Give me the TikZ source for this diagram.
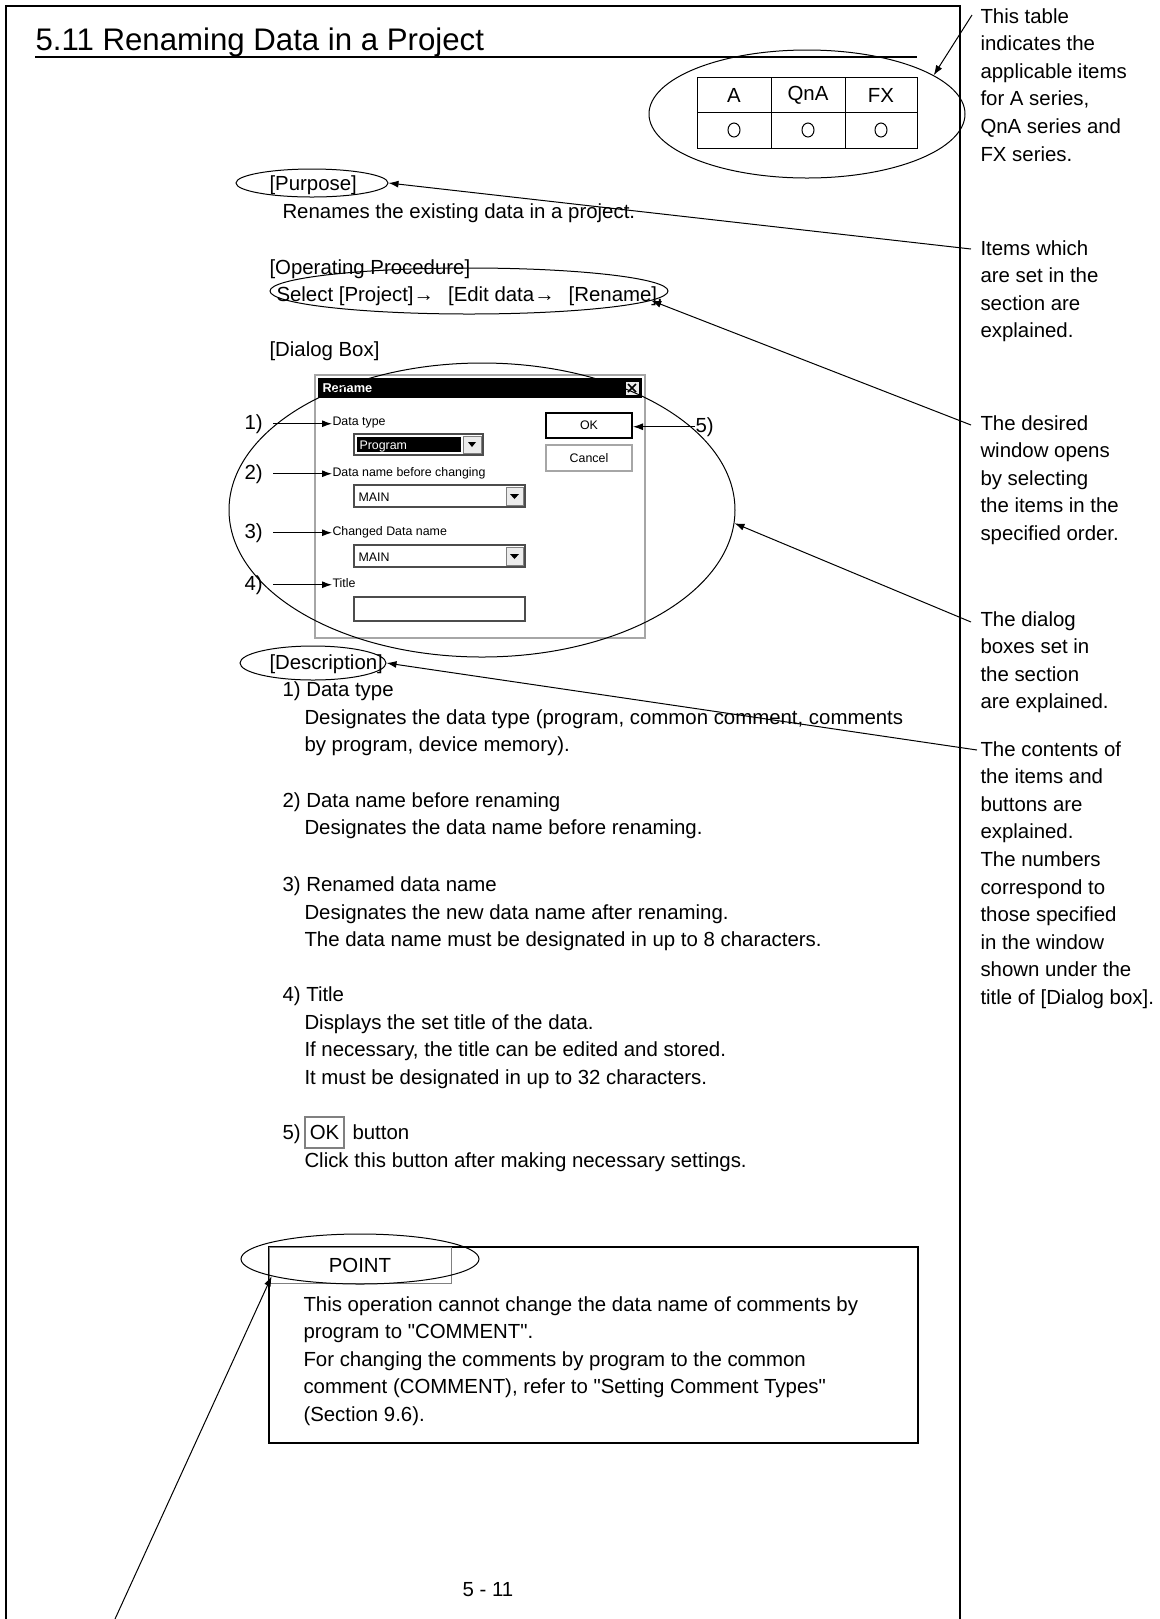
\documentclass[tikz,border=0pt]{standalone}
\usepackage{fontspec}
\setmainfont{Liberation Sans}[Ligatures=TeXOff]
\usetikzlibrary{arrows.meta,shapes.geometric}
\newcommand{\notelines}[1]{\begin{tabular}[t]{@{}l@{}}#1\end{tabular}}

\begin{document}
\begin{tikzpicture}[x=0.5pt, y=-0.5pt, line width=0.5pt,
    txt/.style={anchor=base west, inner sep=0pt,
        font=\fontsize{10.2}{13.8}\selectfont},
    dlg/.style={anchor=base west, inner sep=0pt, font=\fontsize{6.2}{7.4}\selectfont},
    oval/.style={ellipse, draw, inner sep=0pt},
    lead/.style={-{Latex[length=5pt, width=3.5pt]}},
    combo/.style={draw=black!70, line width=0.75pt, fill=white},
    dropbtn/.style={draw=gray, fill=gray!15}]

    \useasboundingbox (0,0) rectangle (1160,1619);

    % page frame and heading
    \draw[line width=0.75pt] (6,1619) -- (6,6) -- (960,6) -- (960,1619);
    \node[txt, font=\fontsize{15.6}{18}\selectfont] (title) at (35,50) {5.11 Renaming Data in a Project};
    \draw[line width=1pt] (35,57) -- (917,57);

    % series table
    \draw (697,77) rectangle (917,148);
    \draw (697,112) -- (917,112);
    \draw (771,77) -- (771,148);
    \draw (845,77) -- (845,148);
    \foreach \cx/\lab in {734/A, 808/QnA, 881/FX} {
        \node[font=\fontsize{10.2}{12}\selectfont] (hd\lab) at (\cx,95) {\lab};
        \draw (\cx,130) ellipse (6 and 7);
    }
    \node[oval, minimum width=158pt, minimum height=64pt] (tabell) at (807,114) {};

    % notes on the right
    \node[txt] (ntable) at (980,23) {\notelines{This table\\indicates the\\applicable items\\for A series,\\QnA series and\\FX series.}};
    \node[txt] (nitems) at (980,255) {\notelines{Items which\\are set in the\\section are\\explained.}};
    \node[txt] (nwindow) at (980,430) {\notelines{The desired\\window opens\\by selecting\\the items in the\\specified order.}};
    \node[txt] (ndialog) at (980,626) {\notelines{The dialog\\boxes set in\\the section\\are explained.}};
    \node[txt] (ncontents) at (980,756) {\notelines{The contents of\\the items and\\buttons are\\explained.\\The numbers\\correspond to\\those specified\\in the window\\shown under the\\title of [Dialog box].}};

    % body
    \node[txt] (purpose) at (269,190) {[Purpose]};
    \node[oval, minimum width=76pt, minimum height=14pt] (purpell) at (312,183) {};
    \node[txt] (renames) at (282,218) {Renames the existing data in a project.};
    \node[txt] (opproc) at (269,274) {[Operating Procedure]};
    \node[txt] (select) at (276,301) {Select [Project]→\hspace{7pt}[Edit data→\hspace{7pt}[Rename].};
    \node[oval, minimum width=199pt, minimum height=23pt] (procell) at (469,291) {};
    \node[txt] (dlgbox) at (269,356) {[Dialog Box]};

    % dialog window
    \draw[draw=gray!70, line width=1pt, fill=white] (315,375) rectangle (645,638);
    \fill (318,378) rectangle (642,398);
    \node[dlg, text=white, font=\fontsize{6.4}{7.4}\selectfont\bfseries] (dlgname) at (322,392) {Rename};
    \draw[fill=gray!15] (625,381) rectangle (639,395);
    \draw[line width=0.75pt] (628,384) -- (636,392) (636,384) -- (628,392);

    \node[dlg] (ltype) at (332,425) {Data type};
    \node[dlg] (lbefore) at (332,476) {Data name before changing};
    \node[dlg] (lchanged) at (332,535) {Changed Data name};
    \node[dlg] (ltitle) at (332,587) {Title};

    \draw[combo] (354,434) rectangle (483,455);
    \fill (357,437) rectangle (461,452);
    \node[dlg, text=white] (cbtype) at (359,449) {Program};
    \draw[dropbtn] (463,436) rectangle (481,453);
    \fill (468,442) -- (476,442) -- (472,447) -- cycle;
    \foreach \cy/\nm in {485/cbbefore, 545/cbchanged} {
        \draw[combo] (354,\cy) rectangle (525,\cy+22);
        \node[dlg] (\nm) at (358,\cy+16) {MAIN};
        \draw[dropbtn] (506,\cy+2) rectangle (523,\cy+20);
        \fill (510,\cy+9) -- (519,\cy+9) -- (514.5,\cy+14) -- cycle;
    }
    \draw[combo] (354,597) rectangle (525,621);

    \node[draw, line width=1pt, fill=white, inner sep=0pt, minimum width=43pt, minimum height=12.5pt,
        font=\fontsize{6.2}{7.4}\selectfont] (okbtn) at (589,425.5) {OK};
    \node[draw=gray!70, line width=0.75pt, fill=white, inner sep=0pt, minimum width=43pt, minimum height=13pt,
        font=\fontsize{6.2}{7.4}\selectfont] (cancelbtn) at (589,458) {Cancel};

    \node[oval, minimum width=253pt, minimum height=147pt] (dlgell) at (482,510) {};

    % item numbers
    \node[txt] (n1) at (244,429) {1)};
    \node[txt] (n2) at (244,479) {2)};
    \node[txt] (n3) at (244,538) {3)};
    \node[txt] (n4) at (244,590) {4)};
    \node[txt] (n5) at (695,432) {5)};
    \draw[lead] ([xshift=5pt]n1.east) -- (n1.east -| ltype.west);
    \draw[lead] ([xshift=5pt]n2.east) -- (n2.east -| lbefore.west);
    \draw[lead] ([xshift=5pt]n3.east) -- (n3.east -| lchanged.west);
    \draw[lead] ([xshift=5pt]n4.east) -- (n4.east -| ltitle.west);
    \draw[lead] (n5.west) -- (n5.west -| okbtn.east);

    % description
    \node[txt] (descr) at (269,669) {[Description]};
    \node[oval, minimum width=73pt, minimum height=17pt] (descell) at (313,663) {};
    \node[txt] (d1) at (282,696) {1) Data type};
    \node[txt] (d1txt) at (304,724) {\notelines{Designates the data type (program, common comment, comments\\by program, device memory).}};
    \node[txt] (d2) at (282,807) {2) Data name before renaming};
    \node[txt] (d2txt) at (304,834) {Designates the data name before renaming.};
    \node[txt] (d3) at (282,891) {3) Renamed data name};
    \node[txt] (d3txt) at (304,919) {\notelines{Designates the new data name after renaming.\\The data name must be designated in up to 8 characters.}};
    \node[txt] (d4) at (282,1001) {4) Title};
    \node[txt] (d4txt) at (304,1029) {\notelines{Displays the set title of the data.\\If necessary, the title can be edited and stored.\\It must be designated in up to 32 characters.}};
    \node[txt] (d5) at (282,1139) {5)};
    \node[draw=gray, line width=0.75pt, inner sep=0pt, minimum width=19.5pt, minimum height=15.5pt,
        font=\fontsize{10.2}{12}\selectfont] (okref) at (324.5,1132.5) {OK};
    \node[txt] (d5b) at (352,1139) {button};
    \node[txt] (d5txt) at (304,1167) {Click this button after making necessary settings.};

    % point box
    \draw[line width=0.75pt] (269,1247) rectangle (918,1443);
    \draw[draw=gray] (269,1247) rectangle (451,1283);
    \node[font=\fontsize{10.2}{12}\selectfont] (pointhd) at (360,1265) {POINT};
    \node[oval, minimum width=119pt, minimum height=25pt] (pointell) at (360,1259) {};
    \node[txt] (pointtxt) at (303,1311) {\notelines{This operation cannot change the data name of comments by\\program to "COMMENT".\\For changing the comments by program to the common\\comment (COMMENT), refer to "Setting Comment Types"\\(Section 9.6).}};

    \node[font=\fontsize{10.2}{12}\selectfont] (pagenum) at (488,1590) {5 - 11};

    % leaders
    \coordinate (lpoint) at (115,1619);
    \draw[lead] ([shift={(-8,-8)}]ntable.base west) -- (tabell.17);
    \draw[lead] ([shift={(-9,-6)}]nitems.base west) -- (purpell.east);
    \draw[lead] ([shift={(-9,-5)}]nwindow.base west) -- (procell.-3);
    \draw[lead] ([shift={(-9,-4)}]ndialog.base west) -- (dlgell.-3);
    \draw[lead] ([shift={(-3,-6)}]ncontents.base west) -- (descell.east);
    \draw[lead] (lpoint) -- (pointell.191);

\end{tikzpicture}
\end{document}
